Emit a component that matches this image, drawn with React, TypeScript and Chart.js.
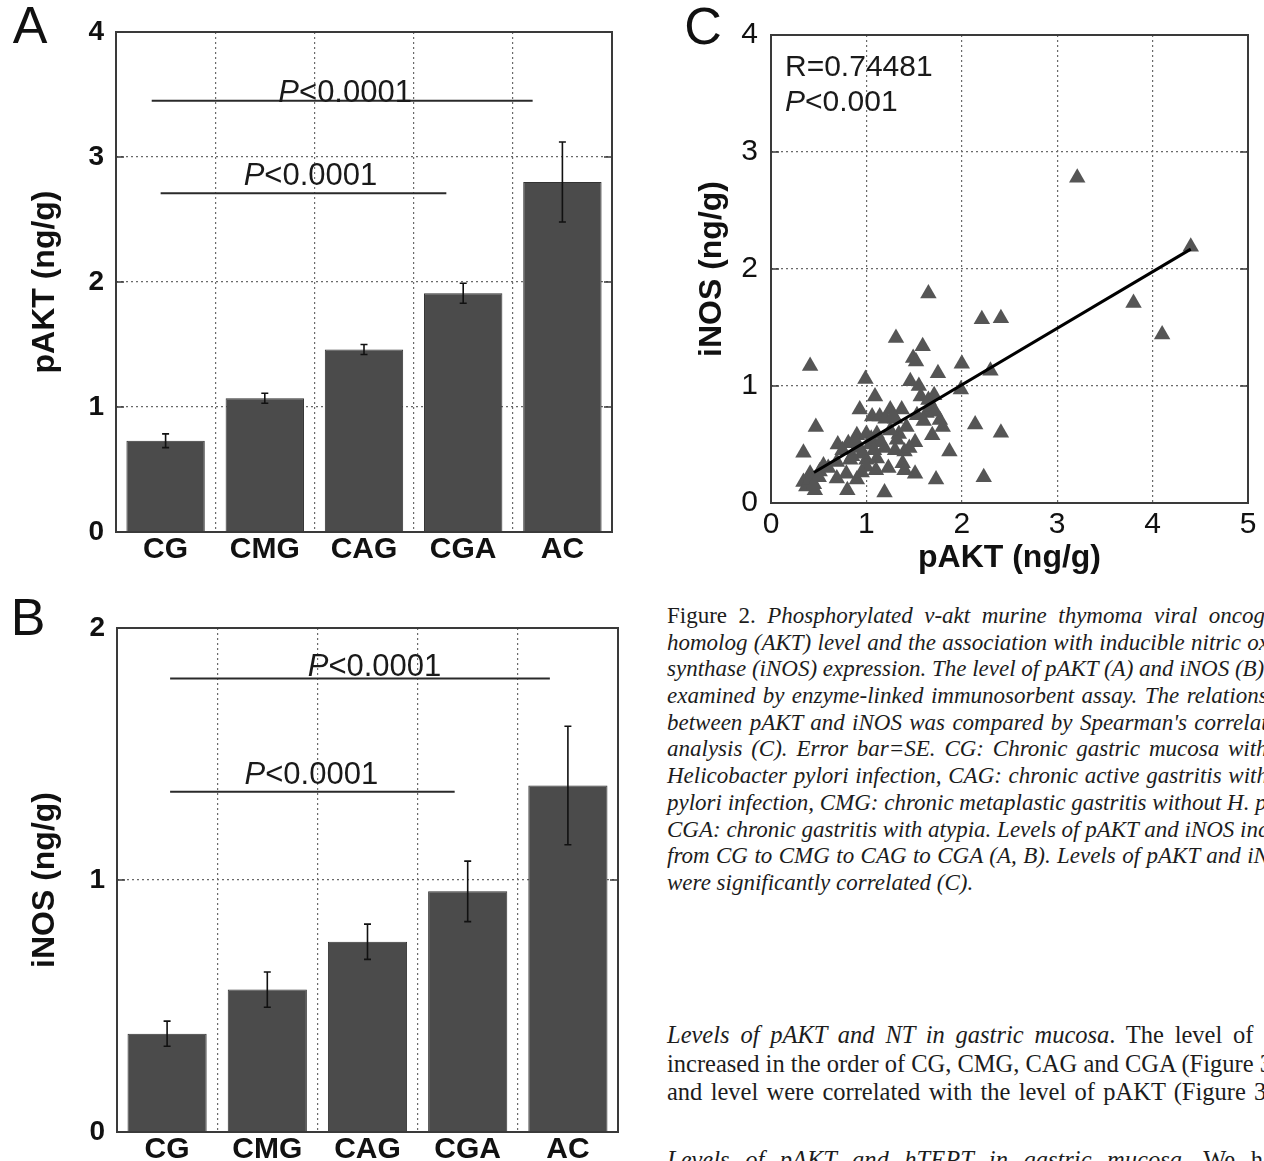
import React, { useEffect, useRef } from "react";
import { Chart, registerables } from "chart.js";

Chart.register(...registerables);

const SANS = '"Liberation Sans", Arial, Helvetica, sans-serif';
const SERIF = '"Liberation Serif", "Times New Roman", Times, serif';

// ---------- data ----------
const categories = ["CG", "CMG", "CAG", "CGA", "AC"];

const pAktMeans = [0.73, 1.07, 1.46, 1.91, 2.8];
const pAktSE = [0.055, 0.04, 0.04, 0.08, 0.32];

const inosMeans = [0.39, 0.565, 0.755, 0.955, 1.375];
const inosSE = [0.05, 0.07, 0.07, 0.12, 0.235];

const pAktYTicks = [0, 1, 2, 3, 4];
const inosYTicks = [0, 1, 2];

// significance brackets (category-index / value units)
const pAktBrackets = [
  { from: -0.14, to: 3.7, y: 3.45, labelX: 1.81, labelY: 3.44, label: "P<0.0001" },
  { from: -0.05, to: 2.83, y: 2.71, labelX: 1.46, labelY: 2.78, label: "P<0.0001" },
];
const inosBrackets = [
  { from: 0.03, to: 3.82, y: 1.8, labelX: 2.07, labelY: 1.81, label: "P<0.0001" },
  { from: 0.03, to: 2.87, y: 1.35, labelX: 1.44, labelY: 1.38, label: "P<0.0001" },
];

// scatter (pAKT, iNOS)
const scatterPAkt = [
  1.65, 2.21, 2.41, 1.31, 1.59, 1.49, 1.52, 0.41, 2.0, 2.3, 1.75, 0.99, 1.46, 1.55, 1.99,
  1.09, 1.57, 1.71, 0.93, 1.06, 1.14, 1.25, 1.37, 1.53, 1.63, 1.68, 1.77, 1.8, 2.14, 2.41,
  0.47, 0.34, 0.9, 1.0, 1.11, 1.34, 1.42, 1.51, 1.69, 0.7, 0.81, 0.93, 1.04, 1.19, 1.32,
  1.4, 1.87, 0.55, 0.69, 0.83, 1.0, 1.11, 1.38, 1.23, 0.41, 0.51, 0.69, 0.79, 0.9, 1.0,
  1.51, 1.73, 2.23, 0.34, 0.37, 0.46, 0.41, 0.8, 1.19, 3.21, 4.4, 3.8, 4.1,
  0.95, 1.05, 1.15, 1.25, 1.3, 1.45, 1.2, 1.3, 0.85, 1.65, 1.6, 0.6, 0.75, 1.1, 1.4,
  0.45, 0.5, 0.95, 1.72, 1.28, 0.88, 1.08,
];
const scatterINOS = [
  1.79, 1.57, 1.58, 1.41, 1.34, 1.24, 1.21, 1.17, 1.19, 1.13, 1.11, 1.06, 1.04, 1.0, 0.97,
  0.91, 0.91, 0.92, 0.8, 0.74, 0.74, 0.8, 0.8, 0.75, 0.77, 0.82, 0.71, 0.65, 0.67, 0.6,
  0.65, 0.43, 0.58, 0.59, 0.59, 0.59, 0.65, 0.52, 0.58, 0.5, 0.51, 0.47, 0.5, 0.47, 0.54,
  0.44, 0.44, 0.32, 0.35, 0.37, 0.37, 0.38, 0.34, 0.3, 0.25, 0.27, 0.21, 0.25, 0.2, 0.31,
  0.25, 0.2, 0.22, 0.18, 0.14, 0.11, 0.2, 0.11, 0.09, 2.78, 2.19, 1.71, 1.44,
  0.42, 0.55, 0.52, 0.62, 0.45, 0.47, 0.72, 0.72, 0.4, 0.88, 0.7, 0.3, 0.45, 0.28, 0.28,
  0.16, 0.22, 0.26, 0.78, 0.75, 0.52, 0.45,
];
const fitPAkt = [0.45, 4.4];
const fitINOS = [0.26, 2.17];

const corrLabel = "R=0.74481";
const corrP = "P<0.001";

const captionLines = [
  [{ t: "Figure 2. ", i: false }, { t: "Phosphorylated v-akt murine thymoma viral oncogene", i: true }],
  [{ t: "homolog (AKT) level and the association with inducible nitric oxide", i: true }],
  [{ t: "synthase (iNOS) expression. The level of pAKT (A) and iNOS (B) was", i: true }],
  [{ t: "examined by enzyme-linked immunosorbent assay. The relationship", i: true }],
  [{ t: "between pAKT and iNOS was compared by Spearman's correlation", i: true }],
  [{ t: "analysis (C). Error bar=SE. CG: Chronic gastric mucosa without", i: true }],
  [{ t: "Helicobacter pylori infection, CAG: chronic active gastritis with H.", i: true }],
  [{ t: "pylori infection, CMG: chronic metaplastic gastritis without H. pylori,", i: true }],
  [{ t: "CGA: chronic gastritis with atypia. Levels of pAKT and iNOS increased", i: true }],
  [{ t: "from CG to CMG to CAG to CGA (A, B). Levels of pAKT and iNOS", i: true }],
  [{ t: "were significantly correlated (C).", i: true }],
];

const bodyLines = [
  [{ t: "Levels of pAKT and NT in gastric mucosa", i: true }, { t: ". The level of NT", i: false }],
  [{ t: "increased in the order of CG, CMG, CAG and CGA (Figure 3A)", i: false }],
  [{ t: "and level were correlated with the level of pAKT (Figure 3B).", i: false }],
];
const bodyLine4 = [{ t: "Levels of pAKT and hTERT in gastric mucosa", i: true }, { t: ". We have", i: false }];

// ---------- drawing helpers ----------
function drawPLabel(ctx: CanvasRenderingContext2D, text: string, x: number, y: number, size: number, align: string) {
  const first = text[0];
  const rest = text.slice(1);
  const fi = `italic ${size}px ${SANS}`;
  const fn = `${size}px ${SANS}`;
  ctx.font = fi;
  const w1 = ctx.measureText(first).width;
  ctx.font = fn;
  const w2 = ctx.measureText(rest).width;
  let x0 = align === "center" ? x - (w1 + w2) / 2 : x;
  ctx.textAlign = "left";
  ctx.font = fi;
  ctx.fillText(first, x0, y);
  ctx.font = fn;
  ctx.fillText(rest, x0 + w1, y);
}

const decoPlugin = {
  id: "deco",
  afterDatasetsDraw(chart: any, _args: any, o: any) {
    const { ctx, chartArea: ca, scales } = chart;
    const xs = scales.x;
    const ys = scales.y;
    ctx.save();
    if (o.means) {
      ctx.strokeStyle = "#111";
      ctx.lineWidth = 1.6;
      o.means.forEach((m: number, i: number) => {
        const px = xs.getPixelForValue(i);
        const top = ys.getPixelForValue(m + o.err[i]);
        const bot = ys.getPixelForValue(m - o.err[i]);
        ctx.beginPath();
        ctx.moveTo(px, top);
        ctx.lineTo(px, bot);
        ctx.moveTo(px - 3.5, top);
        ctx.lineTo(px + 3.5, top);
        ctx.moveTo(px - 3.5, bot);
        ctx.lineTo(px + 3.5, bot);
        ctx.stroke();
      });
    }
    if (o.brackets) {
      o.brackets.forEach((b: any) => {
        const y = ys.getPixelForValue(b.y);
        ctx.strokeStyle = "#2a2a2a";
        ctx.lineWidth = 2;
        ctx.beginPath();
        ctx.moveTo(xs.getPixelForValue(b.from), y);
        ctx.lineTo(xs.getPixelForValue(b.to), y);
        ctx.stroke();
        ctx.fillStyle = "#1a1a1a";
        ctx.textBaseline = "alphabetic";
        drawPLabel(ctx, b.label, xs.getPixelForValue(b.labelX), ys.getPixelForValue(b.labelY), 31, "center");
      });
    }
    if (o.corr) {
      ctx.fillStyle = "#1a1a1a";
      ctx.textBaseline = "middle";
      ctx.textAlign = "left";
      ctx.font = `30px ${SANS}`;
      ctx.fillText(o.corr[0], ca.left + 14, ca.top + 33);
      drawPLabel(ctx, o.corr[1], ca.left + 14, ca.top + 68, 30, "left");
    }
    ctx.restore();
  },
  afterDraw(chart: any, _args: any, o: any) {
    const { ctx, chartArea: ca, scales } = chart;
    const ys = scales.y;
    ctx.save();
    ctx.strokeStyle = "#3a3a3a";
    ctx.lineWidth = 2;
    ctx.strokeRect(ca.left, ca.top, ca.right - ca.left, ca.bottom - ca.top);
    ctx.lineWidth = 1.5;
    ys.ticks.forEach((t: any) => {
      const py = ys.getPixelForValue(t.value);
      ctx.beginPath();
      ctx.moveTo(ca.left, py);
      ctx.lineTo(ca.left + 8, py);
      ctx.moveTo(ca.right, py);
      ctx.lineTo(ca.right - 8, py);
      ctx.stroke();
    });
    ctx.fillStyle = "#111";
    ctx.font = `52px ${SANS}`;
    ctx.textAlign = "center";
    ctx.textBaseline = "middle";
    ctx.fillText(o.letter, o.letterX, o.letterY);
    ctx.restore();
  },
};

function barConfig(p: any) {
  return {
    type: "bar",
    data: {
      labels: categories,
      datasets: [
        {
          data: p.means,
          backgroundColor: "#4b4b4b",
          borderColor: "#333",
          borderWidth: 1,
          barPercentage: 0.79,
          categoryPercentage: 1,
        },
      ],
    },
    options: {
      responsive: false,
      maintainAspectRatio: false,
      animation: false,
      layout: { padding: { left: 0, top: p.padTop, right: p.padRight, bottom: 0 } },
      plugins: {
        legend: { display: false },
        tooltip: { enabled: false },
        deco: {
          means: p.means,
          err: p.err,
          brackets: p.brackets,
          letter: p.letter,
          letterX: p.letterX,
          letterY: p.letterY,
        },
      },
      scales: {
        x: {
          grid: { offset: true, color: "#6a6a6a", lineWidth: 1.2, drawTicks: false },
          border: { display: false, dash: [2, 3] },
          ticks: { color: "#111", padding: 0, font: { family: SANS, size: 30, weight: "bold" } },
          afterFit: (s: any) => {
            s.height = p.xH;
          },
        },
        y: {
          min: 0,
          max: p.yTicks[p.yTicks.length - 1],
          afterBuildTicks: (s: any) => {
            s.ticks = p.yTicks.map((v: number) => ({ value: v }));
          },
          grid: { color: "#6a6a6a", lineWidth: 1.2, drawTicks: false },
          border: { display: false, dash: [2, 3] },
          ticks: { color: "#111", padding: 12, font: { family: SANS, size: 28, weight: "bold" } },
          title: {
            display: true,
            text: p.yTitle,
            color: "#111",
            font: { family: SANS, size: 32, weight: "bold" },
            padding: { top: 26, bottom: 0 },
          },
          afterFit: (s: any) => {
            s.width = p.yW;
          },
        },
      },
    },
    plugins: [decoPlugin],
  };
}

function scatterConfig() {
  return {
    type: "scatter",
    data: {
      datasets: [
        {
          type: "line",
          data: fitPAkt.map((x, i) => ({ x, y: fitINOS[i] })),
          borderColor: "#000",
          borderWidth: 3,
          pointRadius: 0,
          fill: false,
          order: 0,
        },
        {
          type: "scatter",
          data: scatterPAkt.map((x, i) => ({ x, y: scatterINOS[i] })),
          pointStyle: "triangle",
          pointRadius: 9.5,
          backgroundColor: "#555",
          borderColor: "#555",
          borderWidth: 0,
          order: 1,
        },
      ],
    },
    options: {
      responsive: false,
      maintainAspectRatio: false,
      animation: false,
      layout: { padding: { left: 0, top: 35, right: 16, bottom: 0 } },
      plugins: {
        legend: { display: false },
        tooltip: { enabled: false },
        deco: { corr: [corrLabel, corrP], letter: "C", letterX: 63, letterY: 30 },
      },
      scales: {
        x: {
          type: "linear",
          min: 0,
          max: 5,
          ticks: { stepSize: 1, color: "#111", padding: 4, font: { family: SANS, size: 30 } },
          grid: { color: "#6a6a6a", lineWidth: 1.2, drawTicks: false },
          border: { display: false, dash: [2, 3] },
          title: {
            display: true,
            text: "pAKT (ng/g)",
            color: "#111",
            font: { family: SANS, size: 32, weight: "bold" },
            padding: { top: 0, bottom: 13 },
          },
          afterFit: (s: any) => {
            s.height = 87;
          },
        },
        y: {
          type: "linear",
          min: 0,
          max: 4,
          ticks: { stepSize: 1, color: "#111", padding: 13, font: { family: SANS, size: 30 } },
          grid: { color: "#6a6a6a", lineWidth: 1.2, drawTicks: false },
          border: { display: false, dash: [2, 3] },
          title: {
            display: true,
            text: "iNOS (ng/g)",
            color: "#111",
            font: { family: SANS, size: 32, weight: "bold" },
            padding: { top: 53, bottom: 0 },
          },
          afterFit: (s: any) => {
            s.width = 131;
          },
        },
      },
    },
    plugins: [decoPlugin],
  };
}

function ChartBox(props: { left: number; top: number; width: number; height: number; make: () => any }) {
  const ref = useRef<HTMLCanvasElement>(null);
  useEffect(() => {
    const chart = new Chart(ref.current as HTMLCanvasElement, props.make());
    return () => chart.destroy();
  }, []);
  return (
    <canvas
      ref={ref}
      width={props.width}
      height={props.height}
      style={{ position: "absolute", left: props.left, top: props.top, width: props.width, height: props.height }}
    />
  );
}

function TextLines(props: { lines: any[]; left: number; top: number; width: number; size: number; lh: number; lastPlain?: boolean }) {
  return (
    <div style={{ position: "absolute", left: props.left, top: props.top, width: props.width, fontFamily: SERIF, fontSize: props.size, color: "#1c1c1c" }}>
      {props.lines.map((segs: any[], k: number) => {
        const justify = !(props.lastPlain && k === props.lines.length - 1);
        return (
          <div
            key={k}
            style={{
              height: props.lh,
              lineHeight: `${props.lh}px`,
              whiteSpace: "nowrap",
              textAlign: justify ? "justify" : "left",
              textAlignLast: justify ? "justify" : "left",
              width: props.width,
            } as any}
          >
            {segs.map((s: any, j: number) => (
              <span key={j} style={{ fontStyle: s.i ? "italic" : "normal" }}>
                {s.t}
              </span>
            ))}
          </div>
        );
      })}
    </div>
  );
}

export default function App() {
  return (
    <div style={{ position: "absolute", left: 0, top: 0, width: 1264, height: 1161, overflow: "hidden", background: "#fff" }}>
      <ChartBox
        left={0}
        top={0}
        width={640}
        height={590}
        make={() =>
          barConfig({
            means: pAktMeans,
            err: pAktSE,
            brackets: pAktBrackets,
            yTicks: pAktYTicks,
            yTitle: "pAKT (ng/g)",
            padTop: 32,
            padRight: 28,
            xH: 58,
            yW: 116,
            letter: "A",
            letterX: 30,
            letterY: 29,
          })
        }
      />
      <ChartBox
        left={0}
        top={590}
        width={640}
        height={571}
        make={() =>
          barConfig({
            means: inosMeans,
            err: inosSE,
            brackets: inosBrackets,
            yTicks: inosYTicks,
            yTitle: "iNOS (ng/g)",
            padTop: 38,
            padRight: 22,
            xH: 29,
            yW: 117,
            letter: "B",
            letterX: 28,
            letterY: 31,
          })
        }
      />
      <ChartBox left={640} top={0} width={624} height={590} make={scatterConfig} />
      <TextLines lines={captionLines} left={667} top={603} width={630} size={23} lh={26.7} lastPlain />
      <TextLines lines={bodyLines} left={667} top={1021} width={630} size={24.5} lh={28.5} />
      <TextLines lines={[bodyLine4]} left={667} top={1146} width={630} size={24.5} lh={28.5} />
    </div>
  );
}
